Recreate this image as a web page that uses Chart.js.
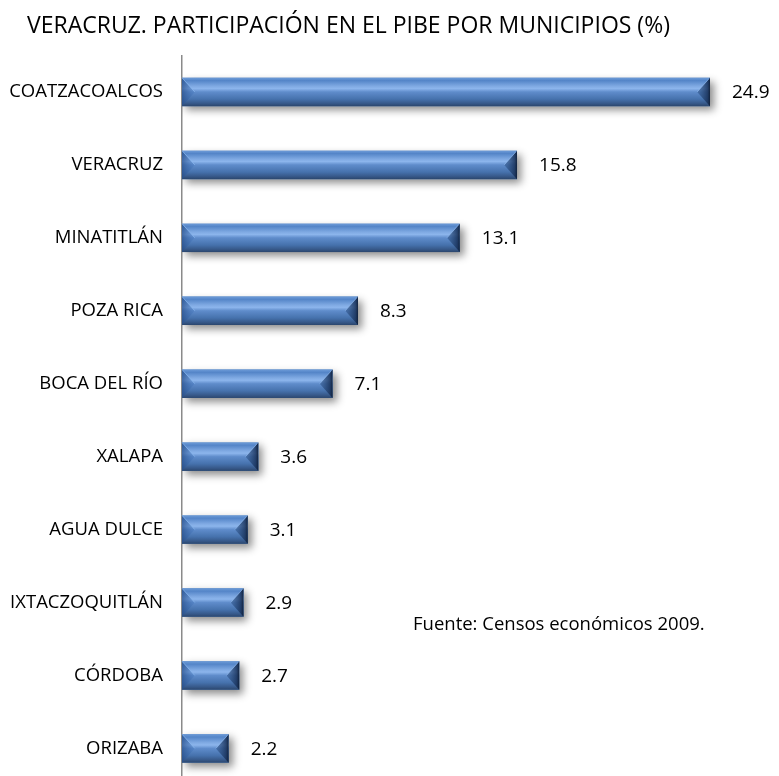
<!DOCTYPE html>
<html>
<head>
<meta charset="utf-8">
<script src="https://cdn.jsdelivr.net/npm/chart.js@4"></script>
<style>
  html, body { margin: 0; padding: 0; background: #ffffff; overflow: hidden; }
  #wrap { width: 779px; height: 776px; overflow: hidden; }
</style>
</head>
<body>
<div id="wrap"><canvas id="chart" width="779" height="815"></canvas></div>
<script>
const titleText = 'VERACRUZ. PARTICIPACIÓN EN EL PIBE POR MUNICIPIOS (%)'
const sourceText = 'Fuente: Censos económicos 2009.'
const municipios = [
  'COATZACOALCOS',
  'VERACRUZ',
  'MINATITLÁN',
  'POZA RICA',
  'BOCA DEL RÍO',
  'XALAPA',
  'AGUA DULCE',
  'IXTACZOQUITLÁN',
  'CÓRDOBA',
  'ORIZABA',
]
const participacion = [24.9, 15.8, 13.1, 8.3, 7.1, 3.6, 3.1, 2.9, 2.7, 2.2]

const FONT = 'Open Sans'

// drop shadow under the bars
const shadowPlugin = {
  id: 'barShadow',
  beforeDatasetsDraw(chart) {
    const ctx = chart.ctx
    ctx.save()
    ctx.shadowColor = 'rgba(0, 0, 0, 0.45)'
    ctx.shadowBlur = 8
    ctx.shadowOffsetX = 4
    ctx.shadowOffsetY = 4
  },
  afterDatasetsDraw(chart) {
    chart.ctx.restore()
  },
}

// bevel look painted over each bar, using the bar geometry from the scales
const bevelPlugin = {
  id: 'bevel',
  afterDatasetsDraw(chart) {
    const ctx = chart.ctx
    chart.getDatasetMeta(0).data.forEach((bar) => {
      const x0 = bar.base
      const x1 = bar.x
      const y0 = bar.y - bar.height / 2
      const y1 = bar.y + bar.height / 2
      const h = y1 - y0
      const b = h * 0.45
      ctx.save()
      const g = ctx.createLinearGradient(0, y0, 0, y1)
      g.addColorStop(0, '#6d9bd8')
      g.addColorStop(0.1, '#5485c8')
      g.addColorStop(0.3, '#80aae3')
      g.addColorStop(0.38, '#8cb5ec')
      g.addColorStop(0.5, '#5f8ccb')
      g.addColorStop(0.75, '#4672ad')
      g.addColorStop(0.9, '#37598a')
      g.addColorStop(1, '#2b466d')
      ctx.fillStyle = g
      ctx.fillRect(x0, y0, x1 - x0, h)

      // left chamfer
      const gl = ctx.createLinearGradient(x0, 0, x0 + b, 0)
      gl.addColorStop(0, 'rgba(40, 80, 140, 0.75)')
      gl.addColorStop(1, 'rgba(70, 120, 190, 0.35)')
      ctx.fillStyle = gl
      ctx.beginPath()
      ctx.moveTo(x0, y0)
      ctx.lineTo(x0 + b, y0 + h / 2)
      ctx.lineTo(x0, y1)
      ctx.closePath()
      ctx.fill()
      ctx.strokeStyle = 'rgba(140, 185, 240, 0.7)'
      ctx.lineWidth = 1
      ctx.beginPath()
      ctx.moveTo(x0, y0)
      ctx.lineTo(x0 + b, y0 + h / 2)
      ctx.stroke()

      // right chamfer
      const gr = ctx.createLinearGradient(x1 - b, 0, x1, 0)
      gr.addColorStop(0, 'rgba(50, 90, 145, 0.55)')
      gr.addColorStop(0.8, 'rgba(25, 50, 90, 0.85)')
      gr.addColorStop(1, 'rgba(15, 30, 55, 0.95)')
      ctx.fillStyle = gr
      ctx.beginPath()
      ctx.moveTo(x1, y0)
      ctx.lineTo(x1 - b, y0 + h / 2)
      ctx.lineTo(x1, y1)
      ctx.closePath()
      ctx.fill()
      ctx.strokeStyle = 'rgba(150, 190, 240, 0.6)'
      ctx.beginPath()
      ctx.moveTo(x1 - 1, y0 + 1)
      ctx.lineTo(x1 - b, y0 + h / 2)
      ctx.stroke()
      ctx.restore()
    })
  },
}

// values next to the bars, title and source note
const textPlugin = {
  id: 'texts',
  afterDraw(chart) {
    const ctx = chart.ctx
    ctx.save()
    ctx.fillStyle = '#000000'
    ctx.textBaseline = 'middle'
    ctx.textAlign = 'left'
    ctx.font = `19px "${FONT}"`
    chart.getDatasetMeta(0).data.forEach((bar, i) => {
      ctx.fillText(participacion[i].toFixed(1), bar.x + 22, bar.y + 1)
    })
    ctx.textBaseline = 'alphabetic'
    ctx.font = `23px "${FONT}"`
    ctx.fillText(titleText, 27, 33)
    ctx.font = `18.5px "${FONT}"`
    ctx.fillText(sourceText, 413, 630)
    ctx.restore()
  },
}

new Chart(document.getElementById('chart').getContext('2d'), {
  type: 'bar',
  data: {
    labels: municipios,
    datasets: [
      {
        data: participacion,
        backgroundColor: '#4f81bd',
        borderWidth: 0,
        categoryPercentage: 1,
        barPercentage: 0.39,
      },
    ],
  },
  options: {
    indexAxis: 'y',
    responsive: false,
    animation: false,
    layout: {
      padding: { top: 55.5, bottom: 0, left: 0, right: 3.3 },
    },
    plugins: {
      legend: { display: false },
      tooltip: { enabled: false },
      title: { display: false },
    },
    scales: {
      x: {
        display: false,
        min: 0,
        max: 28,
      },
      y: {
        afterFit(scale) {
          scale.width = 182
        },
        grid: { display: false, drawTicks: false },
        border: { display: true, color: '#8a8a8a', width: 1.5 },
        ticks: {
          color: '#000000',
          padding: 19,
          font: { family: FONT, size: 18.5 },
        },
      },
    },
  },
  plugins: [shadowPlugin, bevelPlugin, textPlugin],
})
</script>
</body>
</html>
